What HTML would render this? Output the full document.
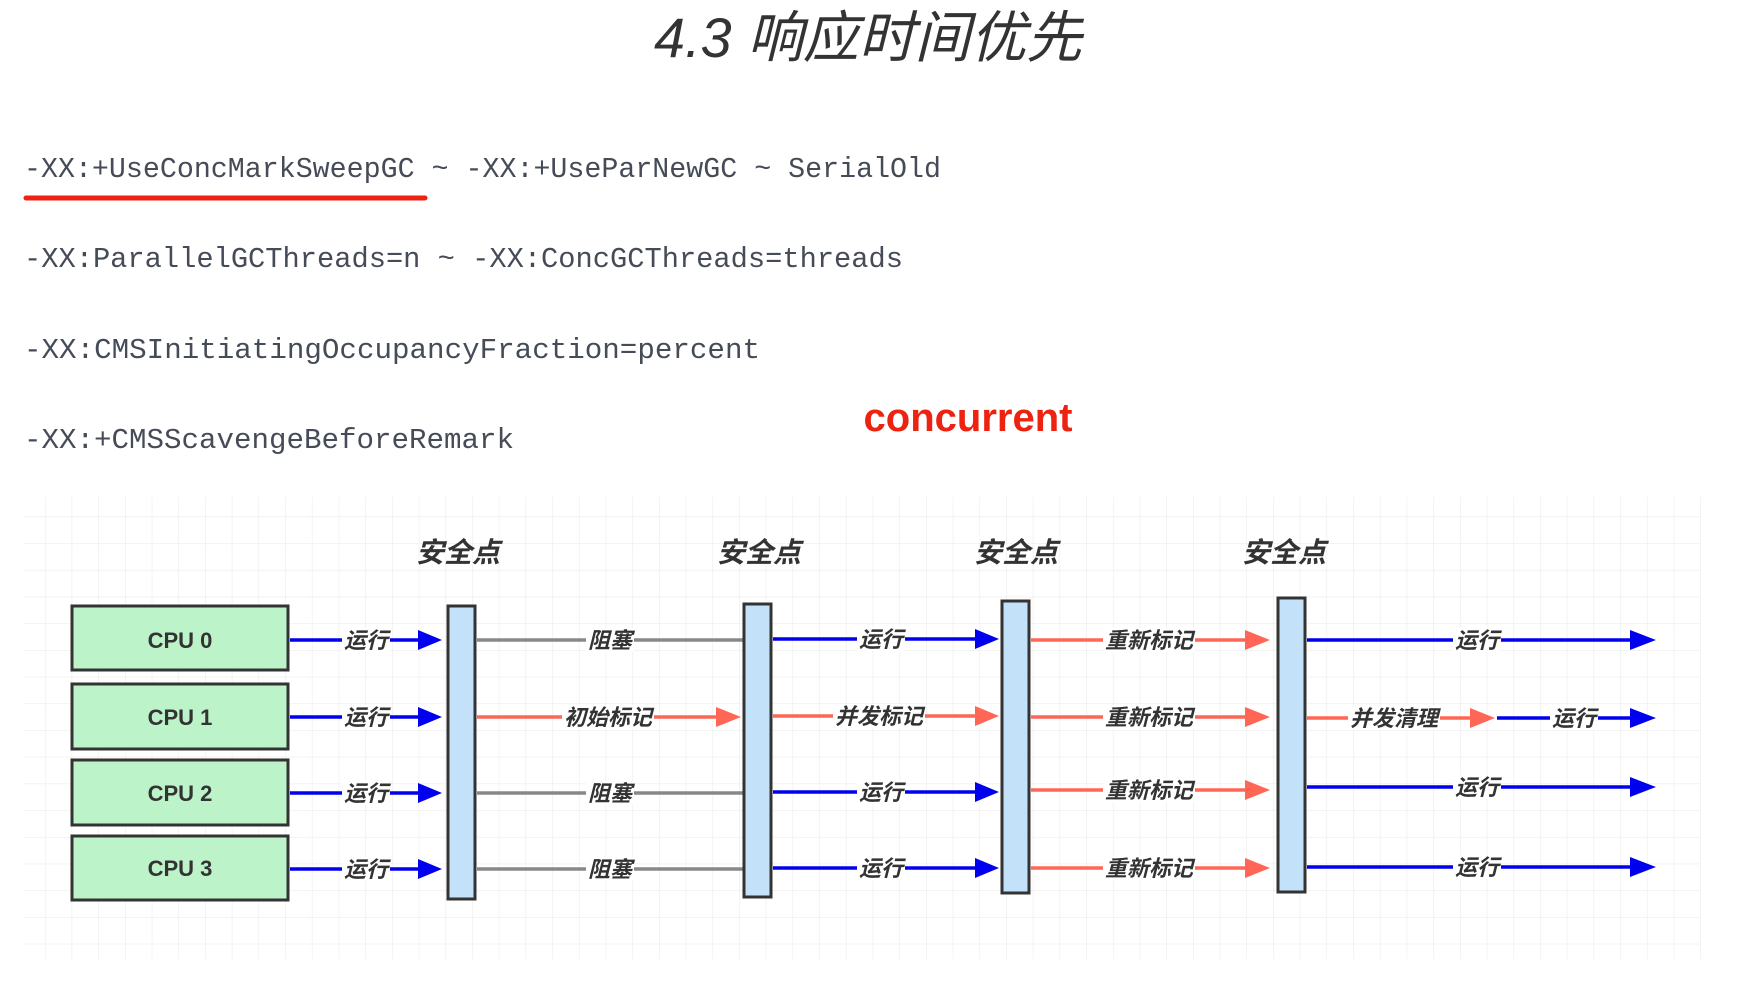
<!DOCTYPE html>
<html><head><meta charset="utf-8"><style>
html,body{margin:0;padding:0;background:#fff;}
body{width:1738px;height:984px;overflow:hidden;position:relative;}
</style></head><body>
<svg width="1738" height="984" viewBox="0 0 1738 984" xmlns="http://www.w3.org/2000/svg">
<defs>
<pattern id="g" x="18.2" y="9.2" width="26.7" height="26.7" patternUnits="userSpaceOnUse">
<path d="M0 0 V26.7 M0 0 H26.7" stroke="#ececec" stroke-width="1.2" fill="none"/>
</pattern>
</defs>
<rect width="1738" height="984" fill="#fff"/>
<!-- title -->
<text x="868" y="57" text-anchor="middle" font-family="'Liberation Sans','Noto Sans CJK SC',sans-serif" font-size="56" font-style="italic" fill="#333" textLength="428" lengthAdjust="spacingAndGlyphs">4.3 响应时间优先</text>
<!-- code lines -->
<g font-family="'Liberation Mono','DejaVu Sans Mono',monospace" font-size="29" fill="#454c57">
<text x="24" y="177" textLength="917" lengthAdjust="spacingAndGlyphs">-XX:+UseConcMarkSweepGC ~ -XX:+UseParNewGC ~ SerialOld</text>
<text x="24" y="267" textLength="879" lengthAdjust="spacingAndGlyphs">-XX:ParallelGCThreads=n ~ -XX:ConcGCThreads=threads</text>
<text x="24" y="358" textLength="736" lengthAdjust="spacingAndGlyphs">-XX:CMSInitiatingOccupancyFraction=percent</text>
<text x="24" y="448" textLength="490" lengthAdjust="spacingAndGlyphs">-XX:+CMSScavengeBeforeRemark</text>
</g>
<line x1="26" y1="198" x2="425" y2="198" stroke="#ee2211" stroke-width="5" stroke-linecap="round"/>
<text x="968" y="431" text-anchor="middle" font-family="'Liberation Sans',sans-serif" font-size="40" font-weight="bold" fill="#ee2211">concurrent</text>
<!-- grid -->
<rect x="24" y="497" width="1677" height="462" fill="url(#g)"/>
<!-- safe point labels -->
<g font-family="'Liberation Sans','Noto Sans CJK SC',sans-serif" font-size="28" font-weight="bold" font-style="italic" fill="#333" text-anchor="middle">
<text x="458" y="562">安全点</text>
<text x="759" y="562">安全点</text>
<text x="1016" y="562">安全点</text>
<text x="1284" y="562">安全点</text>
</g>
<!-- CPU boxes -->
<g stroke="#333" stroke-width="3" fill="#bcf3c9">
<rect x="72" y="606" width="216" height="64"/>
<rect x="72" y="684" width="216" height="65"/>
<rect x="72" y="760" width="216" height="65"/>
<rect x="72" y="836" width="216" height="64"/>
</g>
<g font-family="'Liberation Sans',sans-serif" font-size="22" font-weight="bold" fill="#333" text-anchor="middle">
<text x="180" y="648">CPU 0</text>
<text x="180" y="725">CPU 1</text>
<text x="180" y="801">CPU 2</text>
<text x="180" y="876">CPU 3</text>
</g>
<!-- connectors -->
<g stroke-width="3.5" fill="none">
<line x1="290" y1="640" x2="420" y2="640" stroke="#0000ee"/>
<line x1="290" y1="717" x2="420" y2="717" stroke="#0000ee"/>
<line x1="290" y1="793" x2="420" y2="793" stroke="#0000ee"/>
<line x1="290" y1="869" x2="420" y2="869" stroke="#0000ee"/>
<line x1="477" y1="640" x2="743" y2="640" stroke="#888"/>
<line x1="477" y1="717" x2="720" y2="717" stroke="#ff6655"/>
<line x1="477" y1="793" x2="743" y2="793" stroke="#888"/>
<line x1="477" y1="869" x2="743" y2="869" stroke="#888"/>
<line x1="773" y1="639" x2="978" y2="639" stroke="#0000ee"/>
<line x1="773" y1="716" x2="978" y2="716" stroke="#ff6655"/>
<line x1="773" y1="792" x2="978" y2="792" stroke="#0000ee"/>
<line x1="773" y1="868" x2="978" y2="868" stroke="#0000ee"/>
<line x1="1031" y1="640" x2="1248" y2="640" stroke="#ff6655"/>
<line x1="1031" y1="717" x2="1248" y2="717" stroke="#ff6655"/>
<line x1="1031" y1="790" x2="1248" y2="790" stroke="#ff6655"/>
<line x1="1031" y1="868" x2="1248" y2="868" stroke="#ff6655"/>
<line x1="1307" y1="640" x2="1632" y2="640" stroke="#0000ee"/>
<line x1="1307" y1="718" x2="1472" y2="718" stroke="#ff6655"/>
<line x1="1497" y1="718" x2="1632" y2="718" stroke="#0000ee"/>
<line x1="1307" y1="787" x2="1632" y2="787" stroke="#0000ee"/>
<line x1="1307" y1="867" x2="1632" y2="867" stroke="#0000ee"/>
</g>
<!-- arrowheads -->
<g fill="#0000ee">
<polygon points="418,630 442,640 418,650"/>
<polygon points="418,707 442,717 418,727"/>
<polygon points="418,783 442,793 418,803"/>
<polygon points="418,859 442,869 418,879"/>
<polygon points="975,629 999,639 975,649"/>
<polygon points="975,782 999,792 975,802"/>
<polygon points="975,858 999,868 975,878"/>
<polygon points="1630,630 1656,640 1630,650"/>
<polygon points="1630,708 1656,718 1630,728"/>
<polygon points="1630,777 1656,787 1630,797"/>
<polygon points="1630,857 1656,867 1630,877"/>
</g>
<g fill="#ff6655">
<polygon points="716,707 741,717 716,727"/>
<polygon points="975,706 999,716 975,726"/>
<polygon points="1245,630 1270,640 1245,650"/>
<polygon points="1245,707 1270,717 1245,727"/>
<polygon points="1245,780 1270,790 1245,800"/>
<polygon points="1245,858 1270,868 1245,878"/>
<polygon points="1470,708 1495,718 1470,728"/>
</g>
<!-- bars -->
<g stroke="#333" stroke-width="3" fill="#c3e2fa">
<rect x="448" y="606" width="27" height="293"/>
<rect x="744" y="604" width="27" height="293"/>
<rect x="1002" y="601" width="27" height="292"/>
<rect x="1278" y="598" width="27" height="294"/>
</g>
<!-- labels -->
<g font-family="'Liberation Sans','Noto Sans CJK SC',sans-serif" font-size="22" font-weight="bold" font-style="italic" fill="#333" text-anchor="middle">
<g fill="#fff" stroke="none">
<rect x="342" y="628" width="48" height="24"/><rect x="342" y="705" width="48" height="24"/><rect x="342" y="781" width="48" height="24"/><rect x="342" y="857" width="48" height="24"/>
<rect x="586" y="628" width="48" height="24"/><rect x="562" y="705" width="92" height="24"/><rect x="586" y="781" width="48" height="24"/><rect x="586" y="857" width="48" height="24"/>
<rect x="857" y="627" width="48" height="24"/><rect x="833" y="704" width="92" height="24"/><rect x="857" y="780" width="48" height="24"/><rect x="857" y="856" width="48" height="24"/>
<rect x="1103" y="628" width="92" height="24"/><rect x="1103" y="705" width="92" height="24"/><rect x="1103" y="778" width="92" height="24"/><rect x="1103" y="856" width="92" height="24"/>
<rect x="1453" y="628" width="48" height="24"/><rect x="1348" y="706" width="92" height="24"/><rect x="1550" y="706" width="48" height="24"/><rect x="1453" y="775" width="48" height="24"/><rect x="1453" y="855" width="48" height="24"/>
</g>
<text x="366" y="648">运行</text><text x="366" y="725">运行</text><text x="366" y="801">运行</text><text x="366" y="877">运行</text>
<text x="610" y="648">阻塞</text><text x="608" y="725">初始标记</text><text x="610" y="801">阻塞</text><text x="610" y="877">阻塞</text>
<text x="881" y="647">运行</text><text x="879" y="724">并发标记</text><text x="881" y="800">运行</text><text x="881" y="876">运行</text>
<text x="1149" y="648">重新标记</text><text x="1149" y="725">重新标记</text><text x="1149" y="798">重新标记</text><text x="1149" y="876">重新标记</text>
<text x="1477" y="648">运行</text><text x="1394" y="726">并发清理</text><text x="1574" y="726">运行</text><text x="1477" y="795">运行</text><text x="1477" y="875">运行</text>
</g>
</svg>
</body></html>
